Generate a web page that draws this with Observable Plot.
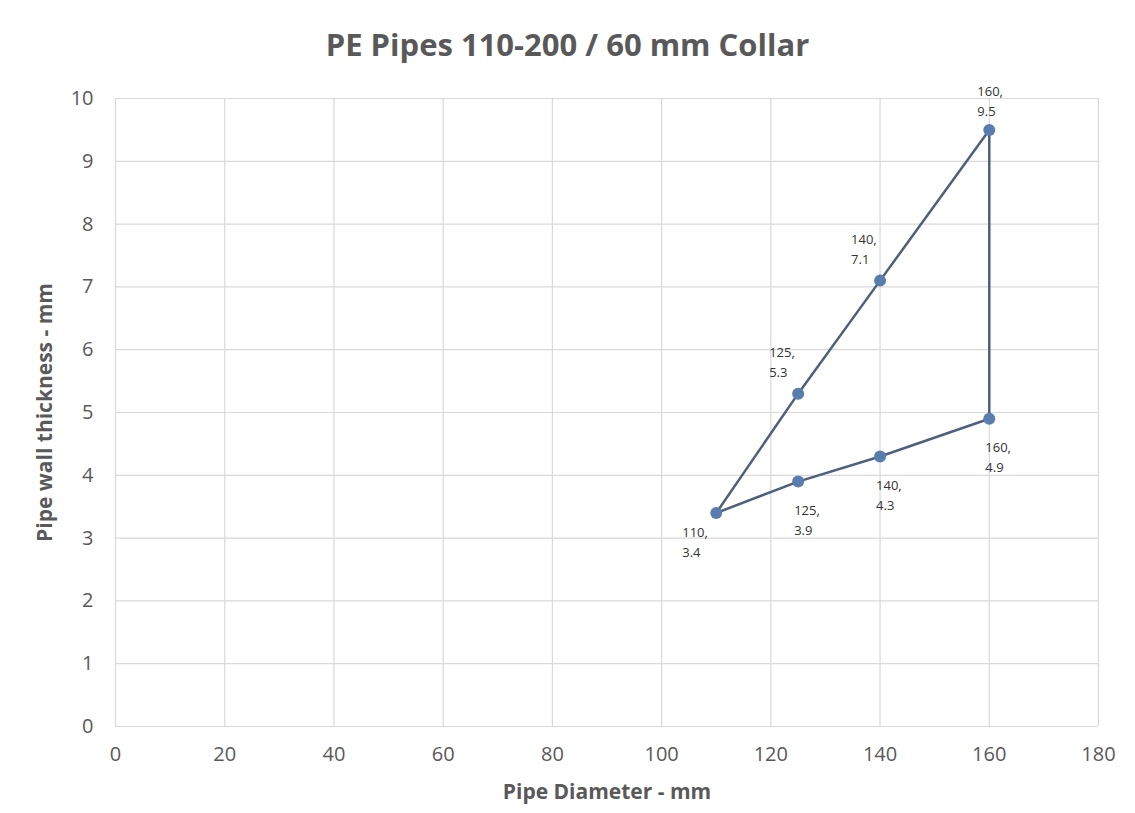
<!DOCTYPE html>
<html>
<head>
<meta charset="utf-8">
<script src="https://cdn.jsdelivr.net/npm/d3@7"></script>
<script src="https://cdn.jsdelivr.net/npm/@observablehq/plot@0.6"></script>
<style>
  html, body { margin: 0; padding: 0; background: #fff; }
  #title { height: 70px; box-sizing: border-box; padding-top: 24px; text-align: center;
    font-family: "Open Sans", sans-serif; font-weight: bold; font-size: 31px; color: #595959; line-height: 40px; }
  #chart svg { display: block; }
</style>
</head>
<body>
<div id="title">PE Pipes 110-200 / 60 mm Collar</div>
<div id="chart"></div>
<script>
const chartTitle = "PE Pipes 110-200 / 60 mm Collar";
const xLabel = "Pipe Diameter - mm";
const yLabel = "Pipe wall thickness - mm";
// Path order: lower series out to 160, up the vertical, back down the upper series
const diameters = [110, 125, 140, 160, 160, 140, 125, 110];
const thickness = [3.4, 3.9, 4.3, 4.9, 9.5, 7.1, 5.3, 3.4];
const xTicks = [0, 20, 40, 60, 80, 100, 120, 140, 160, 180];
const yTicks = [0, 1, 2, 3, 4, 5, 6, 7, 8, 9, 10];

const data = diameters.map((d, i) => ({d, t: thickness[i], label: `${d},\n${thickness[i]}`, i}));
const pts = data.slice(0, 7);

const font = "'Open Sans', sans-serif";
const lab = (idx, dx, dy) => Plot.text(pts.filter(p => idx.includes(p.i)), {
  x: "d", y: "t", text: "label", dx, dy, textAnchor: "start", lineAnchor: "middle",
  lineHeight: 1.55, fontSize: 13, fill: "#333", fontFamily: font
});

const plot = Plot.plot({
  width: 1135,
  height: 743,
  marginLeft: 115,
  marginRight: 37,
  marginTop: 28,
  marginBottom: 87,
  style: {fontFamily: font, fontSize: "20px", color: "#595959", background: "#fff"},
  x: {domain: [0, 180], ticks: xTicks, label: null},
  y: {domain: [0, 10], ticks: yTicks, label: null},
  marks: [
    Plot.gridX(xTicks, {stroke: "#d9d9d9", strokeOpacity: 1, strokeWidth: 1.2}),
    Plot.gridY(yTicks, {stroke: "#d9d9d9", strokeOpacity: 1, strokeWidth: 1.2}),
    Plot.axisX(xTicks, {tickSize: 0, tickPadding: 20, fontSize: 20, fill: "#595959", label: null, tickFormat: d => String(d)}),
    Plot.axisY(yTicks, {tickSize: 0, tickPadding: 22, fontSize: 20, fill: "#595959", label: null, tickFormat: d => String(d)}),
    Plot.line(data, {x: "d", y: "t", stroke: "#4f5f7c", strokeWidth: 2.5}),
    Plot.dot(pts, {x: "d", y: "t", r: 6, fill: "#5a7db0", stroke: "none"}),
    lab([4], -12, -30),
    lab([5, 6], -29, -33),
    lab([0], -34, 28),
    lab([1, 2, 3], -4, 37),
    Plot.text([xLabel], {frameAnchor: "bottom", dy: 72, text: d => d, fontWeight: "bold", fontSize: 21, fill: "#595959", fontFamily: font}),
    Plot.text([yLabel], {frameAnchor: "left", dx: -70, rotate: -90, textAnchor: "middle", text: d => d, fontWeight: "bold", fontSize: 21, fill: "#595959", fontFamily: font})
  ]
});
document.getElementById("chart").appendChild(plot);
</script>
</body>
</html>
